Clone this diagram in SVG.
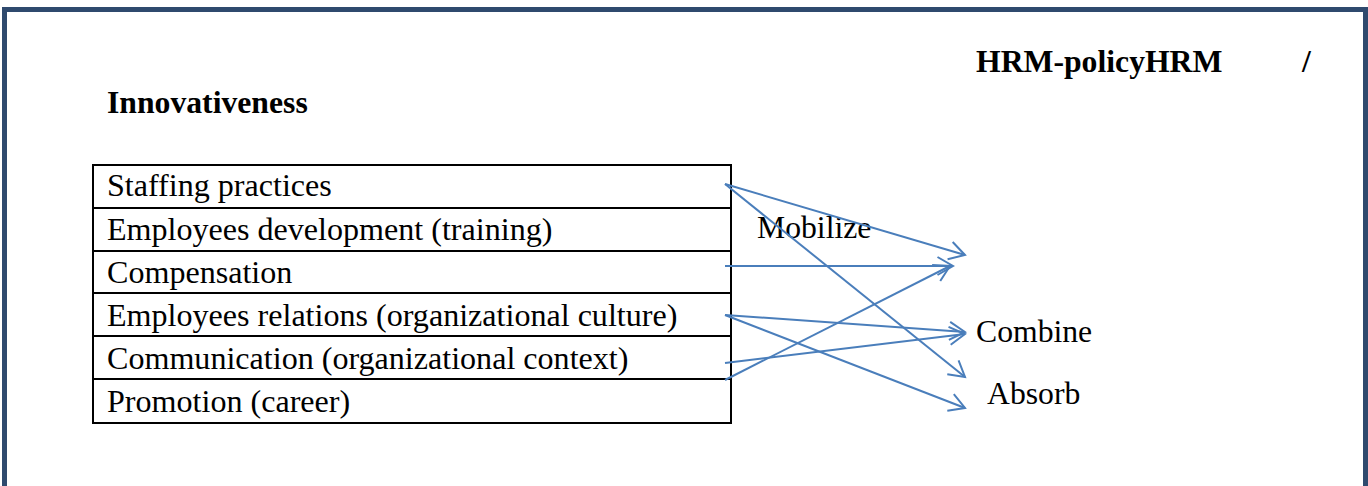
<svg xmlns="http://www.w3.org/2000/svg" width="1368" height="486" viewBox="0 0 1368 486">
<style>
.t{font-family:"Liberation Serif","Times New Roman",serif;font-size:31.7px;fill:#000}
.r{font-size:32.1px}
.b{font-weight:bold}
.row{stroke:#000;stroke-width:2;fill:none}
.c{stroke:#4A7EBB;stroke-width:2;fill:none;marker-end:url(#ah)}
</style>
<defs>
<marker id="ah" markerUnits="userSpaceOnUse" markerWidth="24" markerHeight="26" viewBox="-20 -13 24 26" refX="0" refY="0" orient="auto">
<path d="M-15.5,-9 L0,0 L-15.5,9" fill="none" stroke="#4A7EBB" stroke-width="2"/>
</marker>
</defs>
<rect x="0" y="0" width="1368" height="486" fill="#fff"/>
<rect x="4.5" y="9.5" width="1361" height="500" fill="none" stroke="#2F4A6E" stroke-width="5"/>
<g id="title-hrm">
<text class="t b" x="976" y="72">HRM-policyHRM</text>
<text class="t b" x="1302" y="72">/</text>
</g>
<g id="title-innov">
<text class="t b" x="107" y="113">Innovativeness</text>
</g>
<g id="hrm-table">
<rect class="row" x="93" y="165" width="638" height="258"/>
<line class="row" x1="93" y1="208" x2="731" y2="208"/>
<line class="row" x1="93" y1="251" x2="731" y2="251"/>
<line class="row" x1="93" y1="293" x2="731" y2="293"/>
<line class="row" x1="93" y1="336" x2="731" y2="336"/>
<line class="row" x1="93" y1="379" x2="731" y2="379"/>
<text class="t r" x="107" y="196">Staffing practices</text>
<text class="t r" x="107" y="240">Employees development (training)</text>
<text class="t r" x="107" y="283">Compensation</text>
<text class="t r" x="107" y="326">Employees relations (organizational culture)</text>
<text class="t r" x="107" y="369">Communication (organizational context)</text>
<text class="t r" x="107" y="412">Promotion (career)</text>
</g>
<g id="mobilize"><text class="t" x="757" y="238">Mobilize</text></g>
<g id="combine"><text class="t" x="976" y="342">Combine</text></g>
<g id="absorb"><text class="t" x="987" y="404">Absorb</text></g>
<g id="connectors">
<line class="c" x1="725" y1="184" x2="965" y2="255"/>
<line class="c" x1="725" y1="184" x2="965" y2="377"/>
<line class="c" x1="725" y1="266" x2="953" y2="266"/>
<line class="c" x1="725" y1="315" x2="965" y2="332"/>
<line class="c" x1="725" y1="315" x2="965" y2="408"/>
<line class="c" x1="725" y1="363" x2="965" y2="334"/>
<line class="c" x1="725" y1="380" x2="950" y2="266"/>
</g>
</svg>
